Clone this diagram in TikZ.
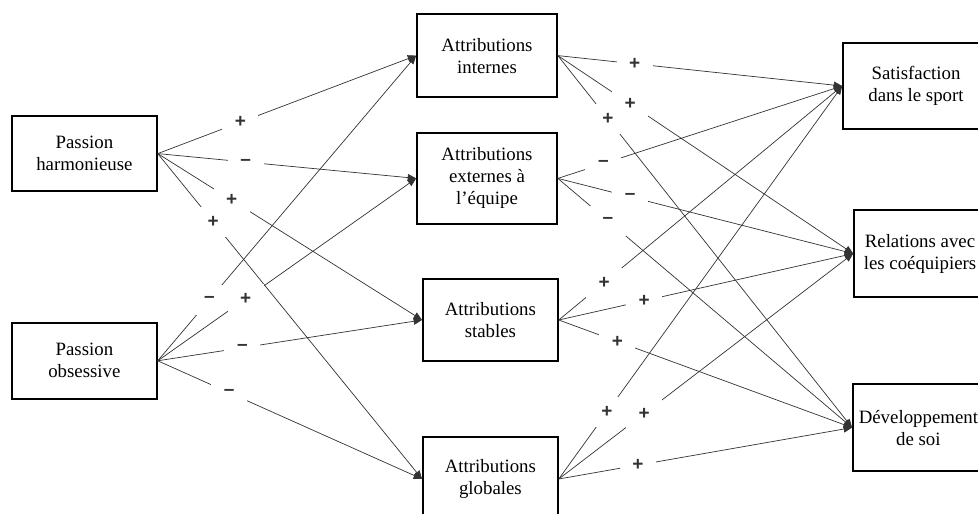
\documentclass[tikz,border=0pt]{standalone}
\usepackage{fontspec}
\setmainfont{Liberation Serif}
\setsansfont{Liberation Sans}
\usetikzlibrary{arrows.meta}

\begin{document}
\begin{tikzpicture}[
    box/.style={draw, line width=1.2pt, align=center, inner sep=2pt, font=\fontsize{13.4}{15.6}\selectfont},
    sign/.style={fill=white, inner sep=0pt, minimum width=0.9cm, minimum height=0.75cm, font=\sffamily\bfseries\fontsize{13.5}{15}\selectfont},
    every edge/.style={draw, line width=0.5pt, black!80, -{Triangle[length=6pt, width=5pt]}}]
    \useasboundingbox (0, 0) rectangle (24.45, 12.85);

    % passions
    \node[box, minimum width=3.625cm, minimum height=1.875cm] (harm) at (2.11, 9.01) {Passion\\harmonieuse};
    \node[box, minimum width=3.625cm, minimum height=1.9cm] (obs) at (2.11, 3.83) {Passion\\obsessive};

    % attributions
    \node[box, minimum width=3.5cm, minimum height=2.075cm] (intern) at (12.175, 11.46) {Attributions\\internes};
    \node[box, minimum width=3.5cm, minimum height=2.275cm] (extern) at (12.175, 8.39) {Attributions\\externes à\\l’équipe};
    \node[box, minimum width=3.375cm, minimum height=2.05cm] (stable) at (12.26, 4.85) {Attributions\\stables};
    \node[box, minimum width=3.375cm, minimum height=2.1cm] (global) at (12.26, 0.875) {Attributions\\globales};

    % outcomes
    \node[box, minimum width=3.65cm, minimum height=2.15cm] (satis) at (22.9, 10.7) {Satisfaction\\dans le sport};
    \node[box, minimum width=3.3cm, minimum height=2.175cm] (relat) at (23.0, 6.51) {Relations avec\\les coéquipiers};
    \node[box, minimum width=3.275cm, minimum height=2.175cm] (devel) at (22.96, 2.16) {Développement\\de soi};

    \draw (harm.east) edge node[sign, pos=0.32] {+} (intern.west)
          (harm.east) edge node[sign, pos=0.34] {–} (extern.west)
          (harm.east) edge node[sign, pos=0.28] {+} (stable.west)
          (harm.east) edge node[sign, pos=0.21] {+} (global.west)
          (obs.east) edge node[sign, pos=0.20] {–} (intern.west)
          (obs.east) edge node[sign, pos=0.34] {+} (extern.west)
          (obs.east) edge node[sign, pos=0.32] {–} (stable.west)
          (obs.east) edge node[sign, pos=0.27] {–} (global.west);

    \draw (intern.east) edge node[sign, pos=0.27] {+} (satis.west)
          (intern.east) edge node[sign, pos=0.245] {+} (relat.west)
          (intern.east) edge node[sign, pos=0.17] {+} (devel.west)
          (extern.east) edge node[sign, pos=0.16] {–} (satis.west)
          (extern.east) edge node[sign, pos=0.245] {–} (relat.west)
          (extern.east) edge node[sign, pos=0.17] {–} (devel.west)
          (stable.east) edge node[sign, pos=0.16] {+} (satis.west)
          (stable.east) edge node[sign, pos=0.29] {+} (relat.west)
          (stable.east) edge node[sign, pos=0.20] {+} (devel.west)
          (global.east) edge node[sign, pos=0.17] {+} (satis.west)
          (global.east) edge node[sign, pos=0.29] {+} (relat.west)
          (global.east) edge node[sign, pos=0.27] {+} (devel.west);
\end{tikzpicture}
\end{document}
